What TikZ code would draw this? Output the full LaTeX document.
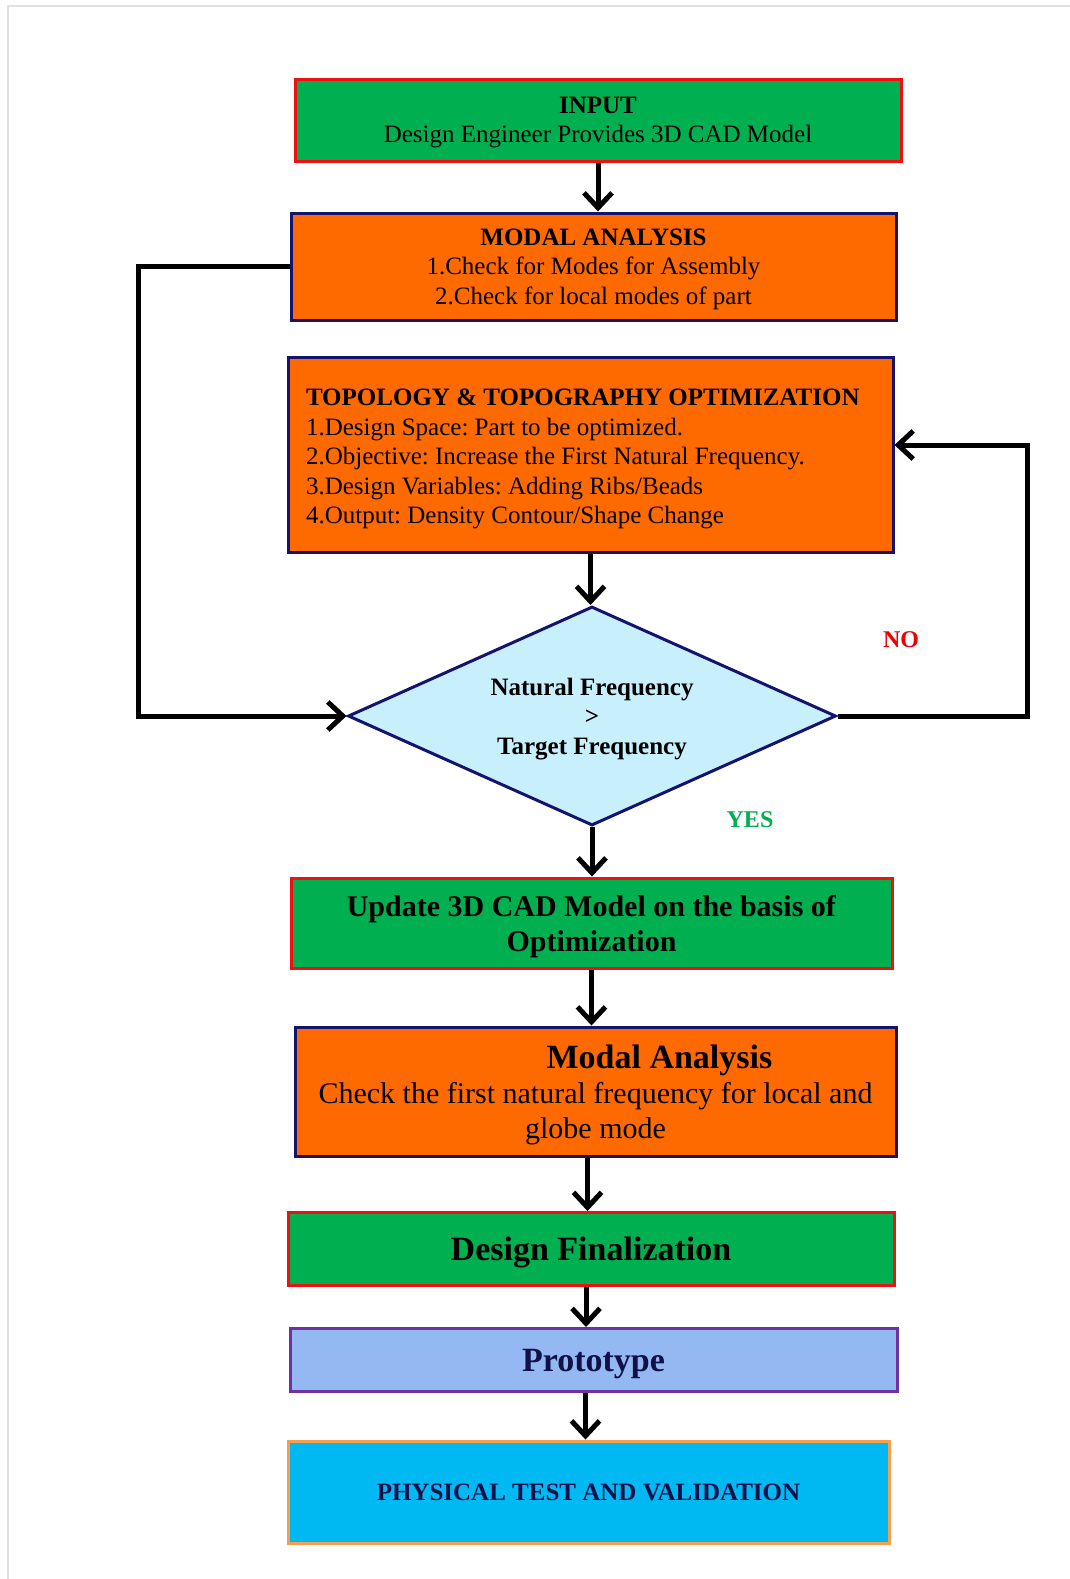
\documentclass[tikz,border=0pt]{standalone}
\usepackage{fontspec}
\setmainfont{Liberation Serif}
\usetikzlibrary{arrows.meta,shapes.geometric}
\definecolor{gfill}{HTML}{00B050}
\definecolor{rborder}{HTML}{EE1111}
\definecolor{ofill}{HTML}{FF6A00}
\definecolor{nborder}{HTML}{14146E}
\definecolor{dfill}{HTML}{C8F0FC}
\definecolor{pfill}{HTML}{93B8F2}
\definecolor{pborder}{HTML}{7030A0}
\definecolor{cfill}{HTML}{00B8F2}
\definecolor{cborder}{HTML}{F4A050}
\definecolor{yesc}{HTML}{00B050}
\definecolor{noc}{HTML}{EE0000}
\definecolor{navytext}{HTML}{10104A}
\frenchspacing
\begin{document}
\begin{tikzpicture}[x=1pt,y=-1pt,
  plainbox/.style={draw, line width=3pt, inner sep=0pt},
  box/.style={plainbox, align=center, text depth=0pt},
  greenbox/.style={box, fill=gfill, draw=rborder},
  orangebox/.style={box, fill=ofill, draw=nborder},
  arr/.style={line width=5pt, -{Straight Barb[length=15pt,width=28pt]}},
  fa/.style={font=\fontsize{25}{29.5}\selectfont},
  fb/.style={font=\fontsize{30}{35}\selectfont},
  fc/.style={font=\fontsize{34}{38}\selectfont\bfseries},
  lbl/.style={font=\fontsize{24}{28}\selectfont\bfseries}
]
\useasboundingbox (0,0) rectangle (1070,1579);
\fill[white] (0,0) rectangle (1070,1579);
\draw[black!12, line width=1.5pt] (8,1579) -- (8,6) -- (1070,6);

\node[greenbox, fa, minimum width=606pt, minimum height=82pt] (input) at (598,120)
  {\textbf{INPUT}\\Design Engineer Provides 3D CAD Model};
\node[orangebox, fa, minimum width=605pt, minimum height=107pt] (modal) at (593.5,266.5)
  {\textbf{MODAL ANALYSIS}\\1.Check for Modes for Assembly\\2.Check for local modes of part};
\node[plainbox, fill=ofill, draw=nborder, fa, align=flush left, text width=569pt, inner xsep=18pt, minimum height=195pt] (topo) at (590.5,454.5)
  {\rule{0pt}{26pt}\textbf{TOPOLOGY \& TOPOGRAPHY OPTIMIZATION}\\1.Design Space: Part to be optimized.\\2.Objective: Increase the First Natural Frequency.\\3.Design Variables: Adding Ribs/Beads\\4.Output: Density Contour/Shape Change};
\node[diamond, draw=nborder, line width=3pt, fill=dfill, inner sep=0pt, minimum width=488pt, minimum height=219pt] (dia) at (592,716) {};
\node[fa, align=center, text depth=0pt] (diatext) at (dia.center)
  {\textbf{Natural Frequency}\\\textbf{>}\\\textbf{Target Frequency}};
\node[greenbox, fb, minimum width=601pt, minimum height=90pt] (update) at (591.5,923)
  {\textbf{Update 3D CAD Model on the basis of}\\\textbf{Optimization}};
\node[orangebox, fb, minimum width=601pt, minimum height=129pt] (modal2) at (595.5,1091.5)
  {\hspace*{128pt}{\fontsize{34}{35}\selectfont\bfseries Modal Analysis}\\Check the first natural frequency for local and\\globe mode};
\node[greenbox, fc, minimum width=606pt, minimum height=73pt] (final) at (591,1249)
  {Design Finalization};
\node[box, fill=pfill, draw=pborder, fc, text=navytext, minimum width=607pt, minimum height=63pt] (proto) at (593.5,1360)
  {Prototype};
\node[box, fill=cfill, draw=cborder, font=\fontsize{25}{29}\selectfont\bfseries, text=navytext, minimum width=601pt, minimum height=102pt] (phys) at (588.5,1492)
  {PHYSICAL TEST AND VALIDATION};

\node[lbl, text=noc] (no) at (901,640) {NO};
\node[lbl, text=yesc] (yes) at (750,820) {YES};

\coordinate (lx) at (138,0);
\coordinate (rtop) at (1027,445);

\draw[arr] (input.south) -- (input.south |- modal.north);
\draw[arr] (topo.south) -- (topo.south |- dia.north);
\draw[arr] (dia.south) -- (dia.south |- update.north);
\draw[arr] (update.south) -- (update.south |- modal2.north);
\draw[arr] ([xshift=-8pt]modal2.south) -- ([xshift=-8pt]modal2.south |- final.north);
\draw[arr] ([xshift=-5pt]final.south) -- ([xshift=-5pt]final.south |- proto.north);
\draw[arr] ([xshift=-8pt]proto.south) -- ([xshift=-8pt]proto.south |- phys.north);

\draw[arr] (modal.west) -- (modal.west -| lx) -- (lx |- dia.west) -- (dia.west);
\draw[arr] (dia.east) -- (dia.east -| rtop) -- (rtop) -- (rtop -| topo.east);
\end{tikzpicture}
\end{document}
